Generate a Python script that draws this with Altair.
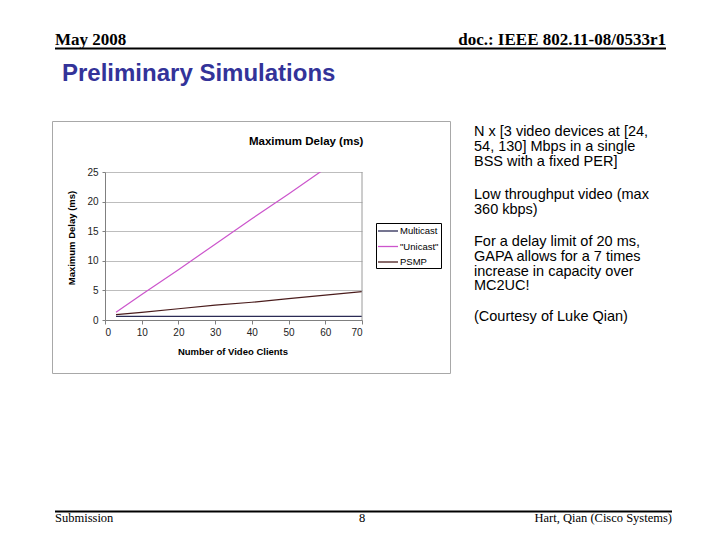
import altair as alt
import pandas as pd

# ---- data ----
clients = [3, 10, 20, 30, 40, 50, 60, 70]
multicast = [0.6, 0.6, 0.6, 0.6, 0.6, 0.6, 0.6, 0.6]
unicast = [1.3, 4.3, 8.5, 12.8, 17.1, 21.3, 25.6, 29.9]
psmp = [0.9, 1.3, 1.9, 2.5, 3.0, 3.6, 4.2, 4.8]
series = ["Multicast", '"Unicast"', "PSMP"]
colors = ["#2b2b55", "#cc55cc", "#4a1c1c"]
x_ticks = [0, 10, 20, 30, 40, 50, 60, 70]
y_ticks = [0, 5, 10, 15, 20, 25]

bullets = [
    ["N x [3 video devices at [24,", "54, 130] Mbps in a single", "BSS with a fixed PER]"],
    ["Low throughput video (max", "360 kbps)"],
    ["For a delay limit of 20 ms,", "GAPA allows for a 7 times", "increase in capacity over", "MC2UC!"],
    ["(Courtesy of Luke Qian)"],
]
bullet_tops = [136, 199, 246, 321]

rows = []
for name, vals in zip(series, [multicast, unicast, psmp]):
    for c, v in zip(clients, vals):
        rows.append({"clients": c, "delay": v, "series": name})
df = pd.DataFrame(rows)

# ---- layout: plot origin placed at page pixel (105, 172) ----
OX, OY = 105, 172
PW, PH = 257, 148
def X(px):
    return px - OX
def Y(py):
    return py - OY

one = pd.DataFrame({"k": [0]})
SANS = "Liberation Sans"
SERIF = "Liberation Serif"

def text(px, py, txt, size, font=SANS, align="left", baseline="alphabetic",
         weight="normal", color="#000000", angle=0):
    kw = dict(align=align, baseline=baseline, fontSize=size, font=font,
              fontWeight=weight, color=color)
    if angle:
        kw["angle"] = angle
    return alt.Chart(one).mark_text(**kw).encode(
        x=alt.value(X(px)), y=alt.value(Y(py)), text=alt.value(txt))

def hrule(x1, x2, y, color="#000000", width=1.0):
    return alt.Chart(one).mark_rule(color=color, strokeWidth=width).encode(
        x=alt.value(X(x1)), x2=alt.value(X(x2)), y=alt.value(Y(y)))

def box(x1, y1, x2, y2, stroke, fill="#ffffff", fill_opacity=1.0, width=1.0):
    return alt.Chart(one).mark_rect(stroke=stroke, fill=fill, fillOpacity=fill_opacity,
                                    strokeWidth=width).encode(
        x=alt.value(X(x1)), x2=alt.value(X(x2)), y=alt.value(Y(y1)), y2=alt.value(Y(y2)))

layers = []

# slide header / footer
layers.append(text(55, 45, "May 2008", 17, font=SERIF, weight="bold"))
layers.append(text(666, 45, "doc.: IEEE 802.11-08/0533r1", 17, font=SERIF, weight="bold", align="right"))
layers.append(hrule(55, 666, 48.5, width=2))
layers.append(text(62, 81, "Preliminary Simulations", 24, weight="bold", color="#333399"))
layers.append(hrule(55, 672, 511.5, width=2))
layers.append(text(55, 522, "Submission", 12.5, font=SERIF))
layers.append(text(362, 522, "8", 12.5, font=SERIF, align="center"))
layers.append(text(672, 522, "Hart, Qian (Cisco Systems)", 12.5, font=SERIF, align="right"))

# bullet text
for para, top in zip(bullets, bullet_tops):
    for i, line in enumerate(para):
        layers.append(text(474, top + i * 14.8, line, 14.5))

# chart frame (transparent fill so the axes stay visible)
layers.append(box(52.5, 121.5, 450.5, 373.5, stroke="#a8a8a8", fill_opacity=0))
layers.append(text(249, 145, "Maximum Delay (ms)", 11.5, weight="bold"))
layers.append(text(72, 238, "Maximum Delay (ms)", 9.5, weight="bold", align="center",
                   baseline="middle", angle=270))
layers.append(text(233, 355, "Number of Video Clients", 9.5, weight="bold", align="center"))

# plot lines
lines = alt.Chart(df).mark_line(clip=True, strokeWidth=1.2).encode(
    x=alt.X("clients:Q", scale=alt.Scale(domain=[0, 70], nice=False, zero=False),
            axis=alt.Axis(values=x_ticks, title=None, grid=False, format="d",
                          labelFont=SANS, labelFontSize=10, labelColor="#222222",
                          domainColor="#808080", tickColor="#808080", tickSize=4,
                          labelPadding=3)),
    y=alt.Y("delay:Q", scale=alt.Scale(domain=[0, 25], nice=False),
            axis=alt.Axis(values=y_ticks, title=None, grid=True, gridColor="#bdbdbd",
                          labelFont=SANS, labelFontSize=10, labelColor="#222222",
                          domainColor="#808080", tickColor="#808080", tickSize=3,
                          labelPadding=4)),
    color=alt.Color("series:N", scale=alt.Scale(domain=series, range=colors), legend=None),
    order=alt.Order("clients:Q"),
)
layers.append(lines)

# right border of plot area
layers.append(alt.Chart(one).mark_rule(color="#9a9a9a").encode(
    x=alt.value(PW), y=alt.value(0), y2=alt.value(PH)))

# legend
layers.append(box(376.5, 223.5, 441.5, 268.5, stroke="#000000"))
for i, (name, col) in enumerate(zip(series, colors)):
    yy = 231 + i * 15.5
    layers.append(hrule(378, 398, yy, color=col, width=1.3))
    layers.append(text(400, yy, name, 9.5, baseline="middle"))

chart = alt.layer(*layers).properties(
    width=PW, height=PH,
    padding={"left": OX - 8, "top": OY - 8, "right": 704 - (OX - 8) - PW,
             "bottom": 524 - (OY - 8) - PH},
    autosize=alt.AutoSizeParams(type="none"),
    background="#ffffff",
).configure_view(stroke=None)

chart.save("out.html", embed_options={"renderer": "svg", "actions": False})
